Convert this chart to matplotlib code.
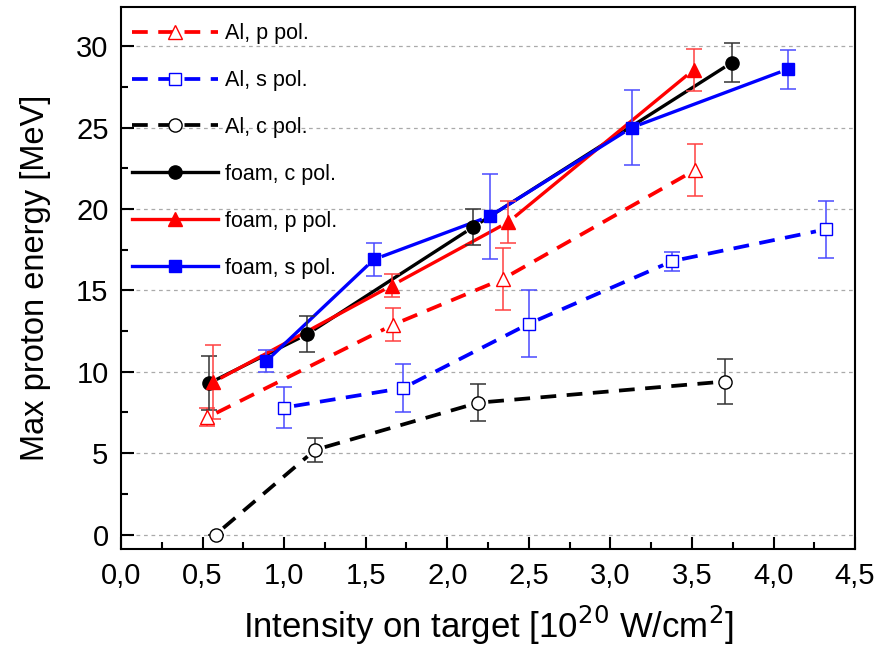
import numpy as np
import matplotlib.pyplot as plt
from matplotlib.ticker import MultipleLocator, FuncFormatter

plt.rcParams['font.family'] = ['Liberation Sans', 'DejaVu Sans']

# Al targets (open markers, dashed)
al_p_x = [0.53, 1.67, 2.34, 3.52]
al_p_y = [7.2, 12.9, 15.7, 22.4]
al_p_e = [0.56, 1.0, 1.9, 1.6]

al_s_x = [1.0, 1.73, 2.50, 3.38, 4.32]
al_s_y = [7.8, 9.0, 12.95, 16.8, 18.75]
al_s_e = [1.28, 1.5, 2.07, 0.58, 1.75]

al_c_x = [0.58, 1.19, 2.19, 3.70]
al_c_y = [0.0, 5.2, 8.1, 9.4]
al_c_e = [0.0, 0.75, 1.15, 1.4]

# foam targets (filled markers, solid)
foam_c_x = [0.54, 1.14, 2.16, 3.745]
foam_c_y = [9.3, 12.3, 18.9, 29.0]
foam_c_e = [1.64, 1.1, 1.1, 1.2]

foam_p_x = [0.565, 1.66, 2.375, 3.51]
foam_p_y = [9.36, 15.3, 19.2, 28.55]
foam_p_e = [2.27, 0.7, 1.3, 1.3]

foam_s_x = [0.89, 1.55, 2.26, 3.13, 4.09]
foam_s_y = [10.65, 16.9, 19.55, 25.0, 28.6]
foam_s_e = [0.68, 1.0, 2.6, 2.3, 1.2]

fig = plt.figure(figsize=(8.77, 6.53), dpi=100)
ax = fig.add_axes([0.138, 0.159, 0.837, 0.830])
ax.set_xlim(0, 4.5)
ax.set_ylim(-0.9, 32.4)

GAP = 10  # pixels of gap between line and marker, like Origin does


def gapped(x, y):
    # cut each segment short near the markers, in display space
    pts = ax.transData.transform(np.column_stack([x, y]))
    xs, ys = [], []
    for p0, p1 in zip(pts[:-1], pts[1:]):
        d = p1 - p0
        n = np.hypot(*d)
        if n <= 2 * GAP:
            continue
        u = d / n
        a = ax.transData.inverted().transform(p0 + u * GAP)
        b = ax.transData.inverted().transform(p1 - u * GAP)
        xs += [a[0], b[0], np.nan]
        ys += [a[1], b[1], np.nan]
    return xs, ys


dash = (0, (4.2, 2.8))
series = [
    (al_p_x, al_p_y, al_p_e, '#ff0000', '^', 'none', dash, 'Al, p pol.', '#ff4040'),
    (al_s_x, al_s_y, al_s_e, '#0000ff', 's', 'none', dash, 'Al, s pol.', '#4a4aff'),
    (al_c_x, al_c_y, al_c_e, 'black', 'o', 'none', dash, 'Al, c pol.', '#333333'),
    (foam_c_x, foam_c_y, foam_c_e, 'black', 'o', 'black', '-', 'foam, c pol.', '#333333'),
    (foam_p_x, foam_p_y, foam_p_e, '#ff0000', '^', '#ff0000', '-', 'foam, p pol.', '#ff4040'),
    (foam_s_x, foam_s_y, foam_s_e, '#0000ff', 's', '#0000ff', '-', 'foam, s pol.', '#4a4aff'),
]

handles = []
for x, y, e, col, mk, fc, ls, lab, ecol in series:
    lw = 2.4 if ls == '-' else 2.7
    gx, gy = gapped(x, y)
    ax.plot(gx, gy, color=col, lw=lw, ls=ls, zorder=3)
    ax.errorbar(x, y, yerr=e, fmt='none', ecolor=ecol, elinewidth=1.1,
                capsize=6, capthick=1.1, zorder=4)
    mfc = 'white' if fc == 'none' else fc
    ms = 8.5 if mk == 's' else 9.5
    ax.plot(x, y, ls='none', marker=mk, ms=ms, mfc=mfc, mec=col, mew=1.0, zorder=5)
    h, = ax.plot([], [], color=col, lw=lw, ls=ls, marker=mk, ms=ms,
                 mfc=mfc, mec=col, mew=1.0)
    handles.append(h)

ax.legend(handles, [s[7] for s in series], loc='upper left', frameon=False,
          fontsize=15.5, handlelength=4.0, handletextpad=0.35, labelspacing=1.2,
          borderaxespad=0.1, bbox_to_anchor=(0.0, 0.99))

ax.xaxis.set_major_locator(MultipleLocator(0.5))
ax.xaxis.set_minor_locator(MultipleLocator(0.25))
ax.yaxis.set_major_locator(MultipleLocator(5))
ax.yaxis.set_minor_locator(MultipleLocator(2.5))
ax.xaxis.set_major_formatter(FuncFormatter(lambda v, p: f'{v:.1f}'.replace('.', ',')))
ax.tick_params(which='both', direction='in', top=False, right=False, width=1.5)
ax.tick_params(which='major', length=9, labelsize=21, pad=9)
ax.tick_params(which='minor', length=5)
ax.grid(axis='y', which='major', ls=(0, (3, 3)), color='#aaaaaa', lw=0.9)
ax.set_axisbelow(True)
for sp in ax.spines.values():
    sp.set_linewidth(1.5)

ax.set_xlabel('Intensity on target [10$^{20}$ W/cm$^2$]', fontsize=25, labelpad=10)
ax.set_ylabel('Max proton energy [MeV]', fontsize=23.5, labelpad=18)

fig.savefig('out.png', dpi=100)
